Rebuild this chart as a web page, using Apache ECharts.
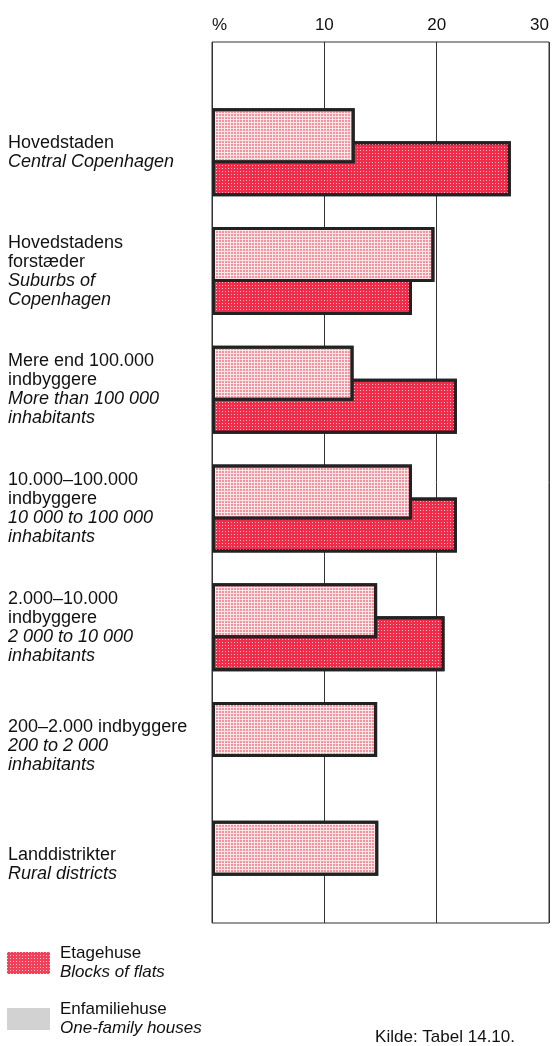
<!DOCTYPE html>
<html>
<head>
<meta charset="utf-8">
<script src="https://cdn.jsdelivr.net/npm/echarts@6/dist/echarts.min.js"></script>
<style>
html,body{margin:0;padding:0;background:#fff;}
#chart{width:552px;height:1046px;}
</style>
</head>
<body>
<div id="chart"></div>
<script>
// ---- data ----
const categoriesDa = [
  'Hovedstaden',
  'Hovedstadens\nforstæder',
  'Mere end 100.000\nindbyggere',
  '10.000–100.000\nindbyggere',
  '2.000–10.000\nindbyggere',
  '200–2.000 indbyggere',
  'Landdistrikter'
];
const categoriesEn = [
  'Central Copenhagen',
  'Suburbs of\nCopenhagen',
  'More than 100 000\ninhabitants',
  '10 000 to 100 000\ninhabitants',
  '2 000 to 10 000\ninhabitants',
  '200 to 2 000\ninhabitants',
  'Rural districts'
];
const enfamiliehuse = [12.7, 19.8, 12.6, 17.8, 14.7, 14.7, 14.8];
const etagehuse = [26.6, 17.8, 21.8, 21.8, 20.7, null, null];
const tickLabels = ['%', '10', '20', '30'];
const seriesNames = ['Etagehuse', 'Enfamiliehuse'];
const seriesNamesEn = ['Blocks of flats', 'One-family houses'];
const sourceText = 'Kilde: Tabel 14.10.';

// ---- chart ----
const FONT = '"Liberation Sans", Arial, Helvetica, sans-serif';
const chart = echarts.init(document.getElementById('chart'), null, {renderer: 'canvas'});

function catLabel(i) {
  const da = categoriesDa[i].split('\n').map(s => '{da|' + s + '}');
  const en = categoriesEn[i].split('\n').map(s => '{en|' + s + '}');
  return da.concat(en).join('\n');
}

const option = {
  backgroundColor: '#ffffff',
  animation: false,
  textStyle: {fontFamily: FONT},
  grid: [
    {left: 212, right: 3, top: 42, bottom: 123, show: true, borderColor: '#333', borderWidth: 1, containLabel: false},
    {left: 212, right: 3, top: 93, bottom: 122, containLabel: false}
  ],
  xAxis: [
    {
      gridIndex: 0, type: 'value', position: 'top', min: 0, max: 30, interval: 10,
      axisLine: {show: false}, axisTick: {show: false},
      splitLine: {show: true, lineStyle: {color: '#333', width: 1}},
      axisLabel: {
        fontSize: 17, color: '#111', fontFamily: FONT, margin: 8,
        alignMinLabel: 'left', alignMaxLabel: 'right',
        formatter: v => tickLabels[Math.round(v / 10)]
      }
    },
    {
      gridIndex: 1, type: 'value', min: 0, max: 30, interval: 10, show: false,
      splitLine: {show: false}
    }
  ],
  yAxis: [
    {
      gridIndex: 0, type: 'value', min: 0, max: 1, show: false, splitLine: {show: false}
    },
    {
      gridIndex: 1, type: 'category', inverse: true,
      data: categoriesDa.map((d, i) => i),
      axisLine: {show: false}, axisTick: {show: false},
      axisLabel: {
        margin: 204, align: 'left', color: '#111',
        formatter: (v, i) => catLabel(i),
        rich: {
          da: {fontSize: 18, lineHeight: 19, fontFamily: FONT, color: '#111'},
          en: {fontSize: 18, lineHeight: 19, fontFamily: FONT, fontStyle: 'italic', color: '#111'}
        }
      }
    }
  ],
  legend: {
    orient: 'vertical', left: 7, top: 945, padding: 0,
    itemWidth: 43, itemHeight: 22, itemGap: 20,
    icon: 'rect',
    data: [
      {name: seriesNames[0], itemStyle: {color: '#f0405a', borderWidth: 0}},
      {name: seriesNames[1], itemStyle: {color: '#d2d2d2', borderWidth: 0, decal: 'none'}}
    ],
    formatter: name => {
      const i = seriesNames.indexOf(name);
      return '{da|' + name + '}\n{en|' + seriesNamesEn[i] + '}';
    },
    textStyle: {
      padding: [0, 0, 0, 5],
      rich: {
        da: {fontSize: 17, lineHeight: 19, fontFamily: FONT, color: '#111'},
        en: {fontSize: 17, lineHeight: 19, fontFamily: FONT, fontStyle: 'italic', color: '#111'}
      }
    }
  },
  graphic: [
    {type: 'text', right: 37, top: 1029, style: {text: sourceText, font: '17px ' + FONT, fill: '#111'}}
  ],
  series: [
    {
      name: seriesNames[1], type: 'bar', xAxisIndex: 1, yAxisIndex: 1,
      data: enfamiliehuse, barWidth: 55, barGap: '-40%', z: 3,
      itemStyle: {
        color: '#fbe6e8', borderColor: '#222', borderWidth: 3,
        decal: {symbol: 'rect', symbolSize: 1, dashArrayX: [[2, 1]], dashArrayY: [2, 1], color: 'rgba(238,120,135,0.75)', rotation: 0}
      }
    },
    {
      name: seriesNames[0], type: 'bar', xAxisIndex: 1, yAxisIndex: 1,
      data: etagehuse, barWidth: 55, barGap: '-40%', z: 2,
      itemStyle: {
        color: '#ef2c4a', borderColor: '#222', borderWidth: 3,
        decal: {symbol: 'rect', symbolSize: 1, dashArrayX: [[1, 2]], dashArrayY: [1, 2], color: 'rgba(255,255,255,0.7)', rotation: 0}
      }
    }
  ]
};
chart.setOption(option);
</script>
</body>
</html>
